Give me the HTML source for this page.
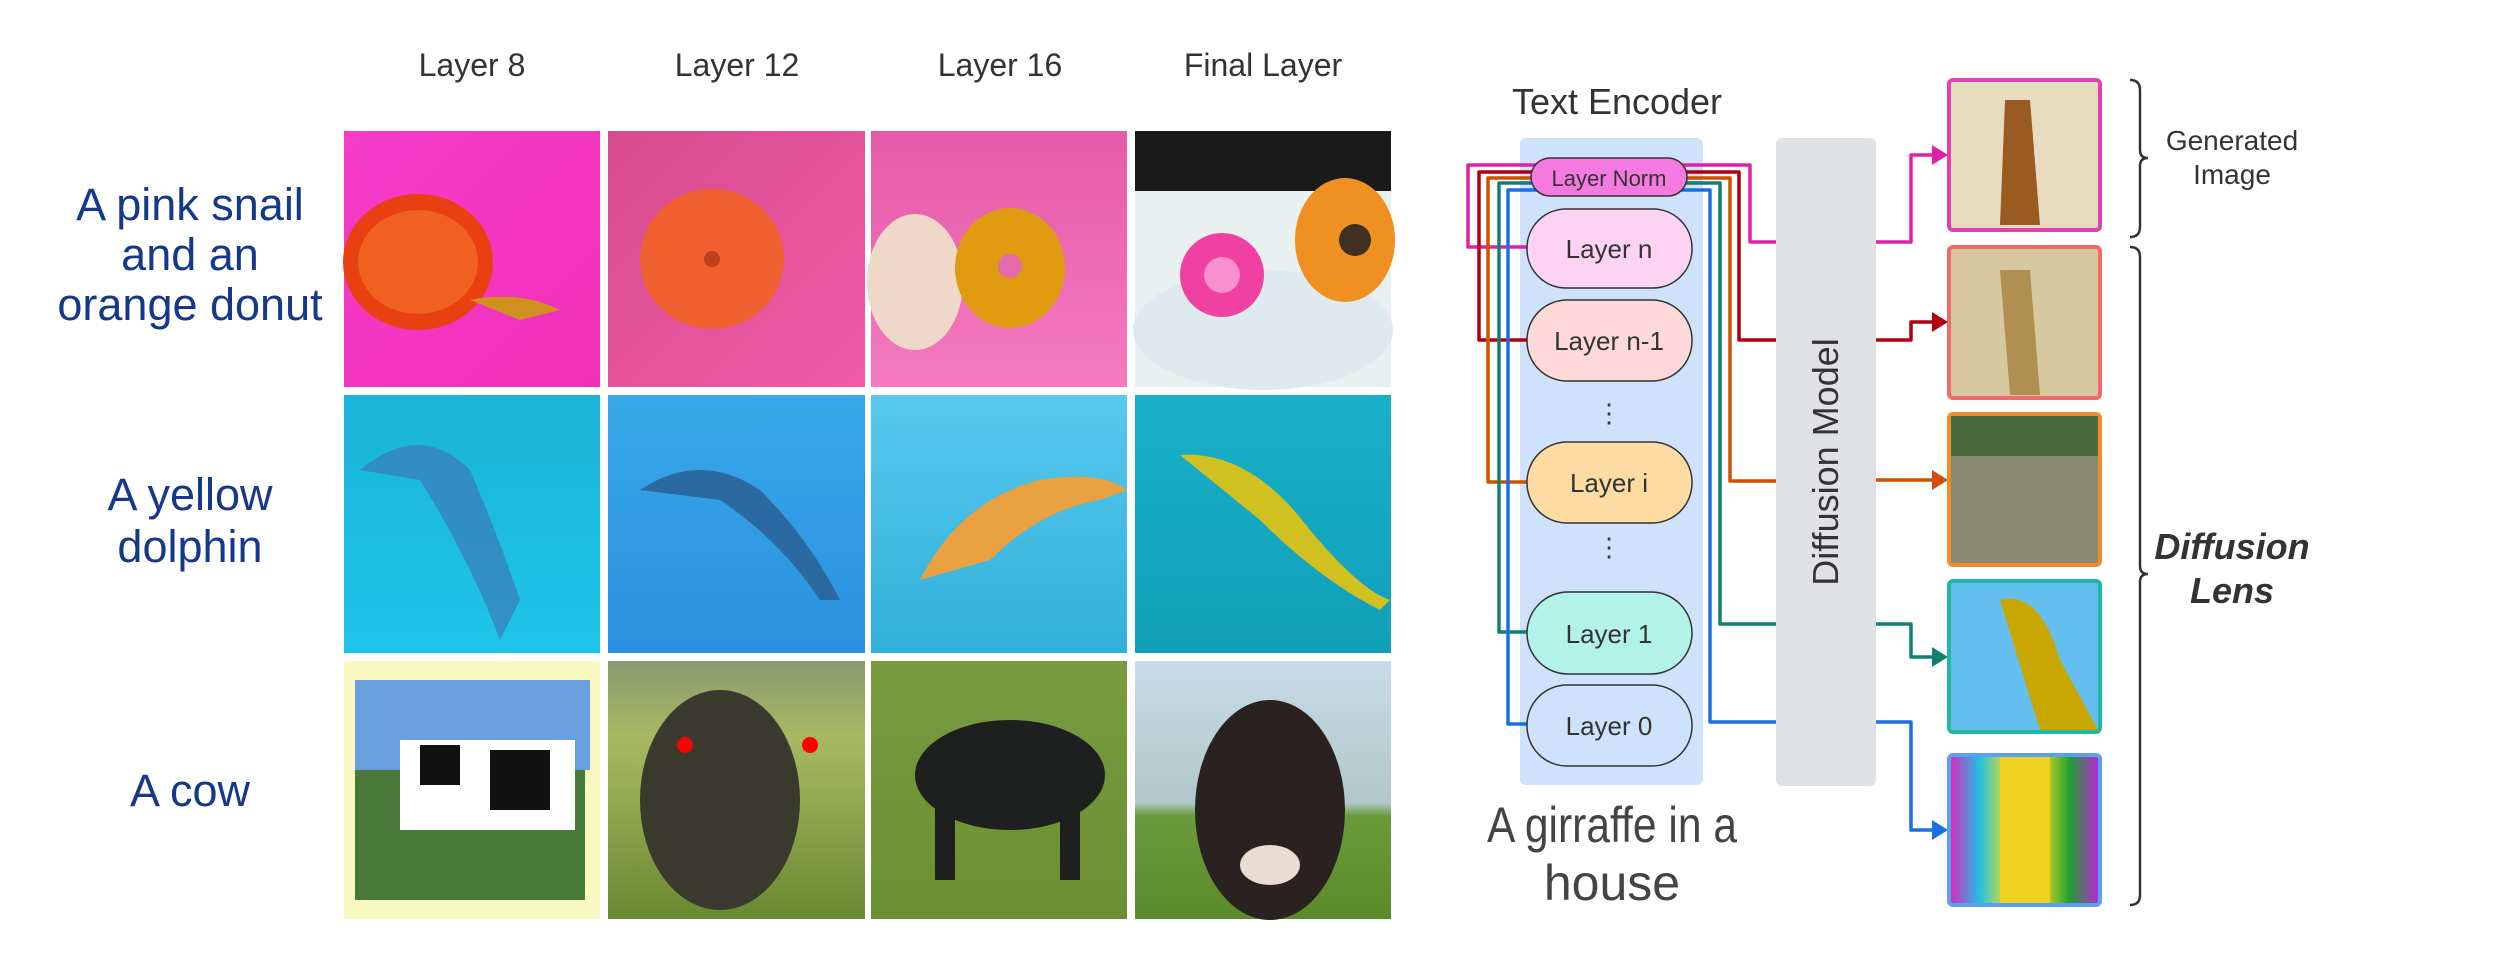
<!DOCTYPE html>
<html><head><meta charset="utf-8"><style>
html,body{margin:0;padding:0;background:#fff;}
svg{display:block;}
text{font-family:"Liberation Sans",sans-serif;}
</style></head><body>
<svg width="2498" height="961" viewBox="0 0 2498 961" xmlns="http://www.w3.org/2000/svg">
<defs>
<linearGradient id="pk1" x1="0" y1="0" x2="1" y2="1"><stop offset="0" stop-color="#f43cc8"/><stop offset="1" stop-color="#f22fb8"/></linearGradient>
<linearGradient id="pk2" x1="0" y1="0" x2="1" y2="1"><stop offset="0" stop-color="#d84c8e"/><stop offset="1" stop-color="#f05aa8"/></linearGradient>
<linearGradient id="pk3" x1="0" y1="0" x2="0" y2="1"><stop offset="0" stop-color="#e55aa8"/><stop offset="1" stop-color="#f57ac0"/></linearGradient>
<linearGradient id="bl1" x1="0" y1="0" x2="0" y2="1"><stop offset="0" stop-color="#1ab4d8"/><stop offset="1" stop-color="#1ec4e8"/></linearGradient>
<linearGradient id="bl2" x1="0" y1="0" x2="0" y2="1"><stop offset="0" stop-color="#38a8e8"/><stop offset="1" stop-color="#2a90e0"/></linearGradient>
<linearGradient id="bl3" x1="0" y1="0" x2="0" y2="1"><stop offset="0" stop-color="#58c8ee"/><stop offset="1" stop-color="#30b0d8"/></linearGradient>
<linearGradient id="bl4" x1="0" y1="0" x2="0" y2="1"><stop offset="0" stop-color="#18b0c8"/><stop offset="1" stop-color="#10a0b8"/></linearGradient>
<linearGradient id="gr" x1="0" y1="0" x2="0" y2="1"><stop offset="0" stop-color="#8a9a70"/><stop offset="0.3" stop-color="#a8b860"/><stop offset="1" stop-color="#6a8a30"/></linearGradient>
<linearGradient id="gr2" x1="0" y1="0" x2="0" y2="1"><stop offset="0" stop-color="#7a9a40"/><stop offset="1" stop-color="#6a9030"/></linearGradient>
<linearGradient id="gr3" x1="0" y1="0" x2="0" y2="1"><stop offset="0" stop-color="#c8dce8"/><stop offset="0.55" stop-color="#b0c8c8"/><stop offset="0.6" stop-color="#6a9a3a"/><stop offset="1" stop-color="#5a8a2a"/></linearGradient>
<linearGradient id="g5" x1="0" y1="0" x2="1" y2="0"><stop offset="0" stop-color="#e020c0"/><stop offset="0.2" stop-color="#20c0e0"/><stop offset="0.4" stop-color="#f0e020"/><stop offset="0.5" stop-color="#f03020"/><stop offset="0.6" stop-color="#f0e020"/><stop offset="0.8" stop-color="#20a030"/><stop offset="1" stop-color="#c020e0"/></linearGradient>
</defs>

<!-- column headers -->
<g fill="#333" font-size="32" text-anchor="middle">
<text x="472" y="76">Layer 8</text>
<text x="737" y="76">Layer 12</text>
<text x="1000" y="76">Layer 16</text>
<text x="1263" y="76">Final Layer</text>
</g>
<!-- row labels -->
<g fill="#15388a" font-size="45" text-anchor="middle">
<text x="190" y="220">A pink snail</text>
<text x="190" y="270">and an</text>
<text x="190" y="320">orange donut</text>
<text x="190" y="510">A yellow</text>
<text x="190" y="562">dolphin</text>
<text x="190" y="806">A cow</text>
</g>

<!-- row1 -->
<rect x="344" y="131" width="256" height="256" fill="url(#pk1)"/>
<ellipse cx="418" cy="262" rx="75" ry="68" fill="#e84010"/><ellipse cx="418" cy="262" rx="60" ry="52" fill="#f06020"/>
<path d="M470 300 Q520 290 560 310 L520 320 Z" fill="#d09020"/>
<rect x="608" y="131" width="257" height="256" fill="url(#pk2)"/>
<ellipse cx="712" cy="259" rx="72" ry="70" fill="#f06030"/><circle cx="712" cy="259" r="8" fill="#c04020"/>
<rect x="871" y="131" width="256" height="256" fill="url(#pk3)"/>
<ellipse cx="915" cy="282" rx="48" ry="68" fill="#f0d8c8"/><ellipse cx="1010" cy="268" rx="55" ry="60" fill="#e09a10"/><circle cx="1010" cy="266" r="12" fill="#e46aaa"/>
<rect x="1135" y="131" width="256" height="256" fill="#e8f0f0"/>
<rect x="1135" y="131" width="256" height="60" fill="#1a1a1a"/>
<ellipse cx="1263" cy="330" rx="130" ry="60" fill="#dfeaee"/>
<circle cx="1222" cy="275" r="42" fill="#f040a0"/><circle cx="1222" cy="275" r="18" fill="#f890d0"/>
<ellipse cx="1345" cy="240" rx="50" ry="62" fill="#f09020"/><circle cx="1355" cy="240" r="16" fill="#403020"/>
<!-- row2 -->
<rect x="344" y="395" width="256" height="258" fill="url(#bl1)"/>
<path d="M360 470 Q420 420 470 470 Q500 540 520 600 L500 640 Q470 560 420 480 Z" fill="#3a7ab8" opacity="0.7"/>
<rect x="608" y="395" width="257" height="258" fill="url(#bl2)"/>
<path d="M640 490 Q700 450 760 490 Q810 540 840 600 L820 600 Q780 540 720 500 Z" fill="#2a6aa0"/>
<rect x="871" y="395" width="256" height="258" fill="url(#bl3)"/>
<path d="M920 580 Q960 500 1040 480 Q1100 470 1127 490 L1100 500 Q1040 510 990 560 Z" fill="#e8a040"/>
<rect x="1135" y="395" width="256" height="258" fill="url(#bl4)"/>
<path d="M1180 455 Q1250 450 1310 530 Q1360 590 1390 600 L1380 610 Q1320 580 1260 520 Z" fill="#d0c020"/>
<!-- row3 -->
<rect x="344" y="661" width="256" height="258" fill="#f8f8c0"/>
<rect x="355" y="680" width="235" height="90" fill="#6aa0e0"/>
<rect x="355" y="770" width="230" height="130" fill="#4a7a3a"/>
<rect x="400" y="740" width="175" height="90" fill="#fff"/><rect x="420" y="745" width="40" height="40" fill="#111"/><rect x="490" y="750" width="60" height="60" fill="#111"/>
<rect x="608" y="661" width="257" height="258" fill="url(#gr)"/>
<ellipse cx="720" cy="800" rx="80" ry="110" fill="#3a3a2e"/><circle cx="685" cy="745" r="8" fill="#f00"/><circle cx="810" cy="745" r="8" fill="#f00"/>
<rect x="871" y="661" width="256" height="258" fill="url(#gr2)"/>
<ellipse cx="1010" cy="775" rx="95" ry="55" fill="#1e2020"/><rect x="935" y="800" width="20" height="80" fill="#1e2020"/><rect x="1060" y="800" width="20" height="80" fill="#1e2020"/>
<rect x="1135" y="661" width="256" height="258" fill="url(#gr3)"/>
<ellipse cx="1270" cy="810" rx="75" ry="110" fill="#2a2220"/><ellipse cx="1270" cy="865" rx="30" ry="20" fill="#e8ddd0"/>

<!-- Right: text encoder -->
<text x="1617" y="114" font-size="36" fill="#333" text-anchor="middle">Text Encoder</text>
<rect x="1520" y="138" width="183" height="647" rx="6" fill="#cfe2fb"/>
<rect x="1776" y="138" width="100" height="648" rx="6" fill="#dfe1e5"/>
<text transform="translate(1838,462) rotate(-90)" font-size="36" fill="#333" text-anchor="middle">Diffusion Model</text>

<!-- connectors -->
<g fill="none" stroke-width="3.5" stroke-linejoin="round">
<path d="M1527 247 H1468 V165 H1750 V242 H1776" stroke="#e020a8"/>
<path d="M1876 242 H1911 V155 H1938" stroke="#e020a8"/>
<path d="M1527 340 H1479 V172 H1739 V340 H1776" stroke="#b00010"/>
<path d="M1876 340 H1911 V322 H1938" stroke="#b00010"/>
<path d="M1527 482 H1488 V178 H1730 V481 H1776" stroke="#d05000"/>
<path d="M1876 480 H1938" stroke="#d05000"/>
<path d="M1527 632 H1499 V183 H1720 V624 H1776" stroke="#108070"/>
<path d="M1876 624 H1911 V657 H1938" stroke="#108070"/>
<path d="M1527 724 H1508 V190 H1710 V722 H1776" stroke="#1a70e0"/>
<path d="M1876 722 H1911 V830 H1938" stroke="#1a70e0"/>
</g>
<polygon points="1932,145 1948,155 1932,165" fill="#e020a8"/>
<polygon points="1932,312 1948,322 1932,332" fill="#b00010"/>
<polygon points="1932,470 1948,480 1932,490" fill="#d05000"/>
<polygon points="1932,647 1948,657 1932,667" fill="#108070"/>
<polygon points="1932,820 1948,830 1932,840" fill="#1a70e0"/>

<!-- layer boxes -->
<g stroke="#333" stroke-width="1.5">
<rect x="1531" y="158" width="156" height="38" rx="19" fill="#f47ae0"/>
<rect x="1527" y="209" width="165" height="79" rx="39" fill="#fdd3f3"/>
<rect x="1527" y="300" width="165" height="81" rx="40" fill="#fdd9da"/>
<rect x="1527" y="442" width="165" height="81" rx="40" fill="#fddba3"/>
<rect x="1527" y="592" width="165" height="82" rx="41" fill="#b3f2e8"/>
<rect x="1527" y="685" width="165" height="81" rx="40" fill="#cfe2fb"/>
</g>
<g font-size="26" fill="#333" text-anchor="middle">
<text x="1609" y="186" font-size="22">Layer Norm</text>
<text x="1609" y="258">Layer n</text>
<text x="1609" y="350">Layer n-1</text>
<text x="1609" y="492">Layer i</text>
<text x="1609" y="643">Layer 1</text>
<text x="1609" y="735">Layer 0</text>
<text x="1609" y="422">⋮</text>
<text x="1609" y="556">⋮</text>
</g>
<text x="1612" y="842" font-size="50" fill="#444" text-anchor="middle" textLength="250" lengthAdjust="spacingAndGlyphs">A girraffe in a</text>
<text x="1612" y="900" font-size="50" fill="#444" text-anchor="middle">house</text>

<!-- output images -->
<g stroke-width="4">
<rect x="1949" y="80" width="151" height="150" rx="4" fill="#e8dcc0" stroke="#e040b0"/>
<rect x="1949" y="247" width="151" height="151" rx="4" fill="#d8c8a0" stroke="#f06a6a"/>
<rect x="1949" y="414" width="151" height="151" rx="4" fill="#8a8a70" stroke="#f28a30"/>
<rect x="1949" y="581" width="151" height="151" rx="4" fill="#64bef0" stroke="#20b8a0"/>
<rect x="1949" y="755" width="151" height="150" rx="4" fill="url(#g5)" stroke="#5aa0f0"/>
</g>
<path d="M2005 100 L2030 100 L2040 225 L2000 225 Z" fill="#9a5a20"/>
<path d="M2000 270 L2030 270 L2040 395 L2010 395 Z" fill="#b09050"/>
<rect x="1951" y="416" width="147" height="40" fill="#4a6a40"/>
<path d="M2000 600 Q2040 590 2060 660 L2098 730 L2040 730 Z" fill="#c8a800"/>
<rect x="2000" y="757" width="50" height="146" fill="#f0d020"/>

<!-- braces -->
<g fill="none" stroke="#333" stroke-width="2.5">
<path d="M2130 80 Q2140 80 2140 90 V150 Q2140 158 2148 158 Q2140 158 2140 166 V227 Q2140 237 2130 237"/>
<path d="M2130 247 Q2140 247 2140 257 V566 Q2140 574 2148 574 Q2140 574 2140 582 V895 Q2140 905 2130 905"/>
</g>
<text x="2232" y="150" font-size="28" fill="#333" text-anchor="middle">Generated</text>
<text x="2232" y="184" font-size="28" fill="#333" text-anchor="middle">Image</text>
<text x="2232" y="559" font-size="36" font-weight="bold" font-style="italic" fill="#333" text-anchor="middle">Diffusion</text>
<text x="2232" y="603" font-size="36" font-weight="bold" font-style="italic" fill="#333" text-anchor="middle">Lens</text>
</svg>
</body></html>
